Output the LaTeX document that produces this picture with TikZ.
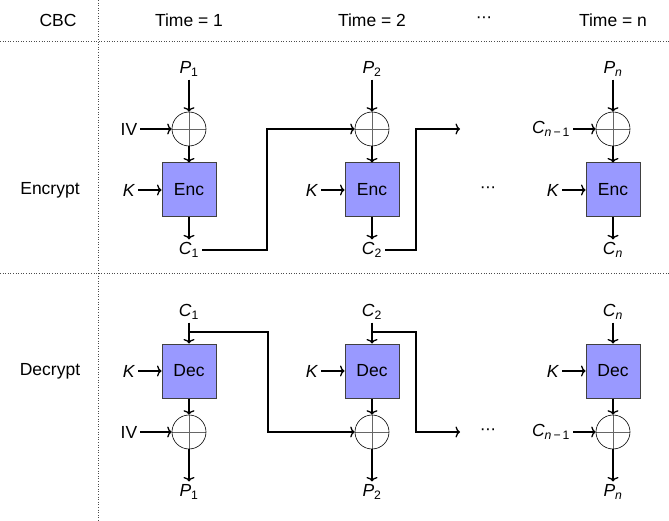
\documentclass[tikz,border=0pt]{standalone}
\usepackage{fontspec}
\setmainfont{Liberation Sans}
\usetikzlibrary{arrows.meta}
\definecolor{blkfill}{RGB}{153,153,255}
\newcommand{\isub}[2]{\textit{#1}\textsubscript{#2}}
\newcommand{\nmone}{\textit{n}\hspace{2pt}−\hspace{2pt}1}
\newcommand{\mdots}{·\kern-0.5pt·\kern-0.5pt·}
\begin{document}
\begin{tikzpicture}[x=1pt,y=-1pt,
  txt/.style={font=\fontsize{17.5}{20}\selectfont, inner sep=3pt},
  dots/.style={font=\fontsize{17.5}{20}\selectfont, inner sep=1pt},
  blk/.style={draw=black!75, fill=blkfill, line width=1pt, minimum width=54pt, minimum height=54pt, inner sep=0pt, font=\fontsize{17.5}{20}\selectfont},
  xo/.style={circle, draw=black, line width=0.6pt, minimum size=34pt, inner sep=0pt,
    path picture={\draw[black!60, line width=0.6pt] (path picture bounding box.north) -- (path picture bounding box.south) (path picture bounding box.west) -- (path picture bounding box.east);}},
  arr/.style={line width=1.5pt, -{To[length=4.5pt,width=11pt,line width=1.3pt]}},
  sep/.style={dotted, line width=0.6pt, black!70}]
\useasboundingbox (0,0) rectangle (669,521);
% separators
\draw[sep] (0,41) -- (669,41);
\draw[sep] (0,273) -- (669,273);
\draw[sep] (98,0) -- (98,521);
% header
\node[txt] (hcbc) at (58,20) {CBC};
\node[txt] (ht1) at (189,20) {Time = 1};
\node[txt] (ht2) at (372,20) {Time = 2};
\node[dots] (hdots) at (484,20) {\mdots};
\node[txt] (htn) at (613,20) {Time = n};
\node[txt] (enc) at (50,190) {Encrypt};
\node[txt] (dec) at (50,371) {Decrypt};
% ---------- Encrypt ----------
% column 1
\node[txt] (eP1) at (189,69) {\isub{P}{1}};
\node[xo] (eX1) at (189,129) {};
\node[blk] (eB1) at (189,190) {Enc};
\node[txt] (eC1) at (189,250) {\isub{C}{1}};
\node[txt] (eIV) at (129,129) {IV};
\node[txt] (eK1) at (129,190) {\textit{K}};
\draw[arr] (eP1) -- (eX1.north);
\draw[arr] (eIV) -- (eX1.west);
\draw[arr] (eX1.south) -- (eB1.north);
\draw[arr] (eK1) -- (eB1.west);
\draw[arr] (eB1.south) -- (eC1);
% column 2
\node[txt] (eP2) at (372,69) {\isub{P}{2}};
\node[xo] (eX2) at (372,129) {};
\node[blk] (eB2) at (372,190) {Enc};
\node[txt] (eC2) at (372,250) {\isub{C}{2}};
\node[txt] (eK2) at (312,190) {\textit{K}};
\draw[arr] (eP2) -- (eX2.north);
\draw[arr] (eX2.south) -- (eB2.north);
\draw[arr] (eK2) -- (eB2.west);
\draw[arr] (eB2.south) -- (eC2);
\coordinate (ej1) at (267,129);
\draw[arr] (eC1.east) -| (ej1) -- (eX2.west);
\coordinate (ej2) at (416,129);
\coordinate (eout) at (460,129);
\draw[arr] (eC2.east) -| (ej2) -- (eout);
\node[dots] (edots) at (488,190) {\mdots};
% column n
\node[txt] (ePn) at (613,69) {\isub{P}{\textit{n}}};
\node[xo] (eXn) at (613,129) {};
\node[blk] (eBn) at (613,190) {Enc};
\node[txt] (eCn) at (613,250) {\isub{C}{\textit{n}}};
\node[txt] (eCm) at (551,129) {\isub{C}{\nmone}};
\node[txt] (eKn) at (553,190) {\textit{K}};
\draw[arr] (ePn) -- (eXn.north);
\draw[arr] (eCm) -- (eXn.west);
\draw[arr] (eXn.south) -- (eBn.north);
\draw[arr] (eKn) -- (eBn.west);
\draw[arr] (eBn.south) -- (eCn);
% ---------- Decrypt ----------
% column 1
\node[txt] (dC1) at (189,312) {\isub{C}{1}};
\node[blk] (dB1) at (189,371) {Dec};
\node[xo] (dX1) at (189,432) {};
\node[txt] (dP1) at (189,492) {\isub{P}{1}};
\node[txt] (dK1) at (129,371) {\textit{K}};
\node[txt] (dIV) at (129,432) {IV};
\draw[arr] (dC1) -- (dB1.north);
\draw[arr] (dK1) -- (dB1.west);
\draw[arr] (dB1.south) -- (dX1.north);
\draw[arr] (dIV) -- (dX1.west);
\draw[arr] (dX1.south) -- (dP1);
% column 2
\node[txt] (dC2) at (372,312) {\isub{C}{2}};
\node[blk] (dB2) at (372,371) {Dec};
\node[xo] (dX2) at (372,432) {};
\node[txt] (dP2) at (372,492) {\isub{P}{2}};
\node[txt] (dK2) at (312,371) {\textit{K}};
\draw[arr] (dC2) -- (dB2.north);
\draw[arr] (dK2) -- (dB2.west);
\draw[arr] (dB2.south) -- (dX2.north);
\draw[arr] (dX2.south) -- (dP2);
\coordinate (db1) at (189,332);
\coordinate (dj1) at (268,432);
\draw[arr] (db1) -| (dj1) -- (dX2.west);
\coordinate (db2) at (372,332);
\coordinate (dj2) at (416,432);
\coordinate (dout) at (460,432);
\draw[arr] (db2) -| (dj2) -- (dout);
\node[dots] (ddots) at (488,432) {\mdots};
% column n
\node[txt] (dCn) at (613,312) {\isub{C}{\textit{n}}};
\node[blk] (dBn) at (613,371) {Dec};
\node[xo] (dXn) at (613,432) {};
\node[txt] (dPn) at (613,492) {\isub{P}{\textit{n}}};
\node[txt] (dKn) at (553,371) {\textit{K}};
\node[txt] (dCm) at (551,432) {\isub{C}{\nmone}};
\draw[arr] (dCn) -- (dBn.north);
\draw[arr] (dKn) -- (dBn.west);
\draw[arr] (dBn.south) -- (dXn.north);
\draw[arr] (dCm) -- (dXn.west);
\draw[arr] (dXn.south) -- (dPn);
\end{tikzpicture}
\end{document}
